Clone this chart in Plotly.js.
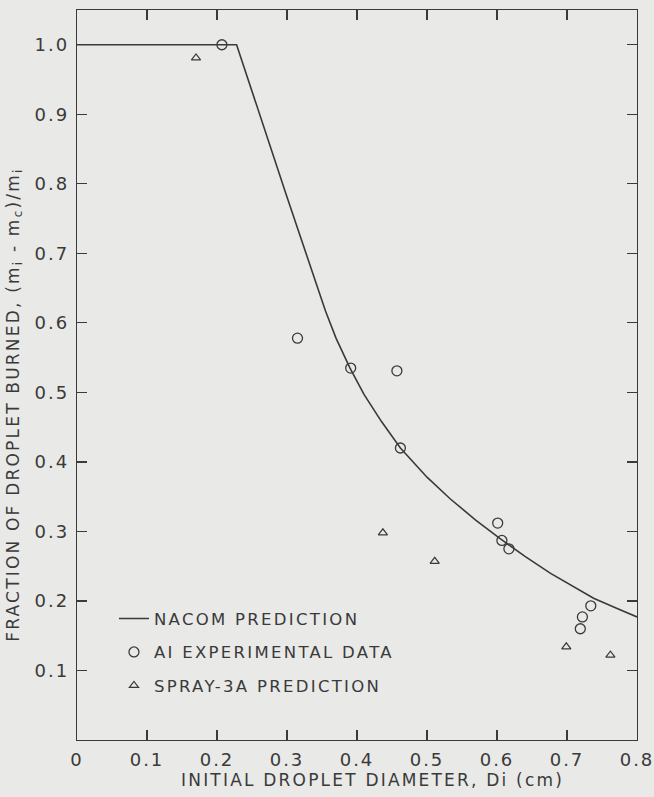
<!DOCTYPE html>
<html>
<head>
<meta charset="utf-8">
<script src="https://cdn.plot.ly/plotly-3.0.1.min.js"></script>
<style>
  html, body { margin: 0; padding: 0; background: #e9e9e7; }
  #chart { width: 654px; height: 797px; }
  /* wide, evenly spaced lettering */
  text.legendtext { letter-spacing: 2.3px; }
  .xtick text, .ytick text { letter-spacing: 2px; }
  .annotation-text { letter-spacing: 2.2px; }
</style>
</head>
<body>
<div id="chart"></div>
<script>
// NACOM prediction curve: fraction burned vs. initial droplet diameter (cm)
const nacomD = [0, 0.228, 0.30, 0.34, 0.355, 0.37, 0.39, 0.41, 0.435, 0.462, 0.50, 0.533, 0.57, 0.604, 0.64, 0.676, 0.70, 0.738, 0.77, 0.80];
const nacomF = [1.0, 1.0, 0.781, 0.66, 0.617, 0.578, 0.535, 0.497, 0.458, 0.42, 0.378, 0.347, 0.316, 0.29, 0.264, 0.24, 0.226, 0.204, 0.19, 0.177];

// AI experimental data
const expD = [0.207, 0.315, 0.391, 0.457, 0.462, 0.601, 0.607, 0.617, 0.734, 0.722, 0.719];
const expF = [1.0, 0.578, 0.535, 0.531, 0.420, 0.312, 0.287, 0.275, 0.193, 0.177, 0.160];

// SPRAY-3A prediction
const sprayD = [0.170, 0.437, 0.511, 0.699, 0.762];
const sprayF = [0.981, 0.298, 0.257, 0.134, 0.122];

const xTicks = [0, 0.1, 0.2, 0.3, 0.4, 0.5, 0.6, 0.7, 0.8];
const xTickText = ['0', '0.1', '0.2', '0.3', '0.4', '0.5', '0.6', '0.7', '0.8'];
const yTicks = [0.1, 0.2, 0.3, 0.4, 0.5, 0.6, 0.7, 0.8, 0.9, 1.0];
const yTickText = ['0.1', '0.2', '0.3', '0.4', '0.5', '0.6', '0.7', '0.8', '0.9', '1.0'];

const xTitle = 'INITIAL DROPLET DIAMETER, Di (cm)';
const yTitle = 'FRACTION OF DROPLET BURNED, (m<sub>i</sub> - m<sub>c</sub>)/m<sub>i</sub>';

const ink = '#3a3a3a';
const fontFam = '"DejaVu Sans", "Liberation Sans", sans-serif';

const traces = [
  {
    x: nacomD, y: nacomF, mode: 'lines', name: 'NACOM PREDICTION',
    line: { color: ink, width: 1.6 }, legendgroup: 'a'
  },
  {
    x: expD, y: expF, mode: 'markers', name: 'AI EXPERIMENTAL DATA',
    marker: { symbol: 'circle-open', size: 10, color: ink, line: { width: 1.3, color: ink } },
    legendgroup: 'b'
  },
  {
    x: sprayD, y: sprayF, mode: 'markers', name: 'SPRAY-3A PREDICTION',
    marker: { symbol: 'triangle-up-open', size: 8, color: ink, line: { width: 1.2, color: ink } },
    legendgroup: 'c'
  }
];

const axisCommon = {
  showgrid: false, zeroline: false,
  showline: true, linecolor: ink, linewidth: 1.3, mirror: 'ticks',
  ticks: 'inside', ticklen: 10, tickwidth: 1.2, tickcolor: ink,
  ticklabeloverflow: 'allow',
  tickfont: { family: fontFam, size: 18, color: ink }
};

const layout = {
  width: 654, height: 797,
  paper_bgcolor: '#e9e9e7', plot_bgcolor: '#e9e9e7',
  margin: { l: 77, r: 17, t: 10, b: 57 },
  showlegend: true,
  legend: {
    x: 0.066, y: 0.19, xanchor: 'left', yanchor: 'top',
    bgcolor: 'rgba(0,0,0,0)', traceorder: 'grouped', tracegroupgap: 9,
    font: { family: fontFam, size: 16.5, color: ink }
  },
  xaxis: Object.assign({}, axisCommon, {
    range: [0, 0.8], tickvals: xTicks, ticktext: xTickText,
    ticklabelstandoff: 3
  }),
  yaxis: Object.assign({}, axisCommon, {
    range: [0, 1.05], tickvals: yTicks, ticktext: yTickText,
    ticklabelstandoff: 3
  }),
  // axis titles, placed as the lettering sits on the sheet
  annotations: [
    {
      text: xTitle, xref: 'paper', yref: 'paper', x: 0.527, y: -0.0548,
      xanchor: 'center', yanchor: 'middle', showarrow: false,
      font: { family: fontFam, size: 17, color: ink }
    },
    {
      text: yTitle, xref: 'paper', yref: 'paper', x: -0.111, y: 0.459,
      xanchor: 'center', yanchor: 'middle', showarrow: false, textangle: -90,
      font: { family: fontFam, size: 17, color: ink }
    }
  ]
};

Plotly.newPlot('chart', traces, layout, { displayModeBar: false, staticPlot: true });
</script>
</body>
</html>
